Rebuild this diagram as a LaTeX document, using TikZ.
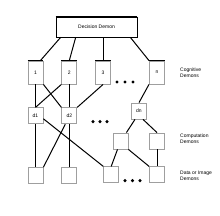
\documentclass[tikz,border=0pt]{standalone}
\usepackage{fontspec}
\setsansfont{Liberation Sans}
\usetikzlibrary{positioning}

\begin{document}
\begin{tikzpicture}[
  x=1pt,y=-1pt,
  font=\sffamily\fontsize{5}{6}\selectfont,
  demon/.style={draw=gray!75,fill=white,line width=0.8pt,inner sep=0pt,minimum width=15pt,minimum height=16pt},
  cog/.style={demon,minimum height=23pt,
    append after command={(\tikzlastnode.north west) edge[black,line width=1.4pt] (\tikzlastnode.north east)}},
  boss/.style={draw=black,fill=white,line width=0.6pt,minimum width=81pt,minimum height=20pt,
    append after command={(\tikzlastnode.north west) edge[line width=1.4pt] (\tikzlastnode.north east)
      (\tikzlastnode.north east) edge[line width=1.2pt] (\tikzlastnode.south east)}},
  tag/.style={anchor=west,align=left,inner sep=0pt},
  link/.style={line width=1pt}
]
\useasboundingbox (0,0) rectangle (220,216);
% decision
\node[boss] (dec) at (96.5,27) {Decision Demon};
% cognitive demons
\node[cog] (cog1) at (35.5,72.5) {1};
\node[cog,right=18pt of cog1] (cog2) {2};
\node[cog,right=18pt of cog2] (cog3) {3};
\node[cog,right=38pt of cog3] (cogn) {n};
% computation demons
\node[demon,below=23pt of cog1] (d1) {d1};
\node[demon,below=23pt of cog2] (d2) {d2};
\node[demon] (dn) at (139,111) {dn};
\node[demon] (c1) at (120.5,141) {};
\node[demon] (c2) at (157,141) {};
% data or image demons
\node[demon,below=43pt of d1] (data1) {};
\node[demon,below=43pt of d2] (data2) {};
\node[demon,below=17pt of c2] (data4) {};
\node[demon,left=30pt of data4] (data3) {};
% labels
\node[tag] (lcog) at (180,72.5) {Cognitive\\Demons};
\node[tag] (lcomp) at (180,138.5) {Computation\\Demons};
\node[tag] (ldata) at (180,175.5) {Data or Image\\Demons};
% links
\draw[link] ([xshift=5pt]dec.south west) -- ([xshift=-3pt]cog1.north east);
\draw[link] ([xshift=20pt]dec.south west) -- (cog2.north);
\draw[link] (dec.south -| cog3.north) -- (cog3.north);
\draw[link] ([xshift=-7pt]dec.south east) -- (cogn.north west);
\draw[link] (cog1.south) -- (d1.north);
\draw[link] (cog1.south east) -- (d2.north west);
\draw[link] (cog2.south west) -- (d1.north);
\draw[link] (cog2.south) -- (cog2.south |- d2.north);
\draw[link] (cog3.south) -- (d2.north east);
\draw[link] (cogn.south west) -- (dn.north);
\draw[link] (d1.south) -- (data1.north);
\draw[link] ([yshift=-3pt]d1.east) -- (data3.north west);
\draw[link] ([xshift=-4pt]d2.south) -- (data1.north east);
\draw[link] (d2.south) -- (data2.north);
\draw[link] ([xshift=-4pt]dn.south) -- ([xshift=-2pt]c1.north east);
\draw[link] ([xshift=4pt]dn.south) -- (c2.north);
\draw[link] ([xshift=-3pt]c1.south) -- (data3.north);
\draw[link] (c1.south east) -- (data4.north west);
\draw[link] (c2.south) -- (data4.north);
% dots
\foreach \i in {0,1,2} {
  \fill (117+8*\i,82) circle (1.7pt);
  \fill (93+7*\i,121.7) circle (1.7pt);
  \fill (125+7.5*\i,180.7) circle (1.7pt);
}
\end{tikzpicture}
\end{document}
